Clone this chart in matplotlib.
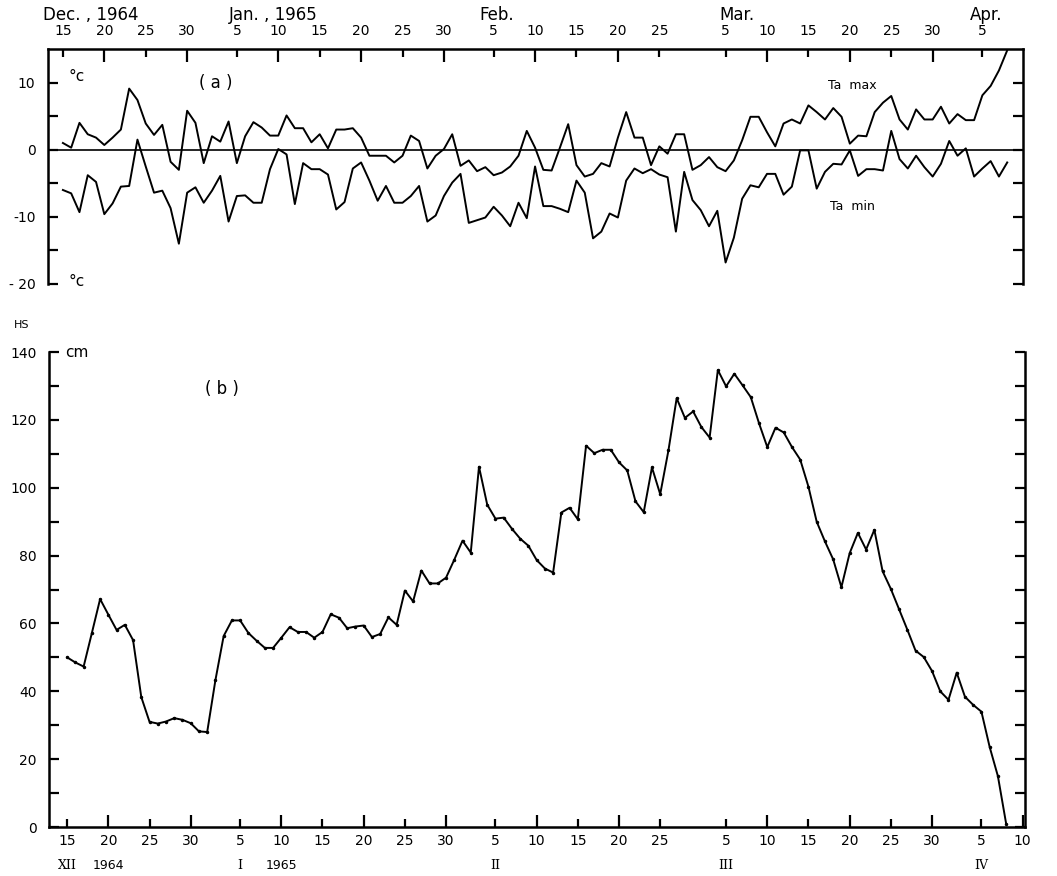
import datetime

import matplotlib
matplotlib.use("Agg")
import matplotlib.ticker
from matplotlib import pyplot

start_date = datetime.date(1964, 12, 15)

# daily air temperature (deg C), 15 Dec 1964 - 8 Apr 1965
ta_max = [1.0, 0.3, 4.0, 2.3, 1.8, 0.7, 1.8, 3.0, 9.1, 7.4,
          3.9, 2.2, 3.7, -1.8, -3.0, 5.8, 4.0, -2.0, 2.0, 1.2,
          4.2, -2.0, 2.0, 4.1, 3.3, 2.1, 2.1, 5.1, 3.2, 3.2,
          1.1, 2.3, 0.2, 3.0, 3.0, 3.2, 1.8, -0.9, -0.9, -0.9,
          -1.9, -0.9, 2.1, 1.3, -2.8, -0.9, 0.1, 2.3, -2.4, -1.6,
          -3.2, -2.6, -3.8, -3.4, -2.5, -0.9, 2.8, 0.3, -3.0, -3.1,
          0.3, 3.8, -2.3, -4.0, -3.6, -2.0, -2.5, 1.8, 5.6, 1.8,
          1.8, -2.3, 0.5, -0.6, 2.3, 2.3, -3.0, -2.3, -1.1, -2.6,
          -3.2, -1.6, 1.4, 4.9, 4.9, 2.6, 0.5, 3.9, 4.5, 3.9,
          6.6, 5.6, 4.5, 6.2, 4.9, 0.9, 2.1, 2.0, 5.6, 7.0,
          8.0, 4.5, 3.0, 6.0, 4.5, 4.5, 6.4, 3.9, 5.3, 4.4,
          4.4, 8.1, 9.5, 11.8, 14.8]
ta_min = [-6.0, -6.5, -9.3, -3.8, -4.8, -9.6, -8.0, -5.5, -5.4, 1.5,
          -2.5, -6.4, -6.1, -8.7, -14.0, -6.4, -5.6, -7.9, -6.1, -3.9,
          -10.7, -6.9, -6.8, -7.9, -7.9, -2.9, 0.1, -0.7, -8.1, -2.0,
          -2.9, -2.9, -3.7, -8.9, -7.8, -2.8, -1.9, -4.6, -7.6, -5.4,
          -7.9, -7.9, -6.9, -5.4, -10.7, -9.8, -6.9, -4.9, -3.6, -10.9,
          -10.5, -10.1, -8.5, -9.8, -11.4, -7.9, -10.2, -2.5, -8.4, -8.4,
          -8.8, -9.3, -4.6, -6.4, -13.2, -12.2, -9.5, -10.1, -4.6, -2.8,
          -3.5, -2.9, -3.7, -4.1, -12.2, -3.3, -7.5, -9.0, -11.4, -9.1,
          -16.8, -13.1, -7.3, -5.3, -5.6, -3.6, -3.6, -6.7, -5.5, -0.1,
          -0.1, -5.8, -3.3, -2.1, -2.2, -0.1, -3.9, -2.9, -2.9, -3.1,
          2.8, -1.4, -2.8, -0.9, -2.6, -4.0, -2.1, 1.3, -0.9, 0.2,
          -4.0, -2.8, -1.7, -4.0, -1.9]
# daily snow depth (cm)
hs = [50.0, 48.5, 47.3, 57.2, 67.2, 62.6, 58.1, 59.6, 55.1, 38.3,
      31.0, 30.5, 31.1, 32.1, 31.6, 30.6, 28.2, 28.0, 43.3, 56.3,
      60.9, 60.9, 57.2, 54.9, 52.8, 52.8, 55.8, 58.9, 57.5, 57.5,
      55.8, 57.5, 62.7, 61.7, 58.6, 59.1, 59.4, 56.0, 56.9, 61.8,
      59.6, 69.7, 66.5, 75.6, 71.8, 71.8, 73.5, 78.8, 84.4, 80.9,
      106.2, 95.0, 90.9, 91.2, 87.9, 85.0, 82.9, 78.7, 76.2, 75.0,
      92.7, 94.1, 90.7, 112.4, 110.2, 111.2, 111.2, 107.5, 105.1, 96.0,
      92.8, 106.0, 98.1, 111.0, 126.4, 120.6, 122.5, 117.9, 114.8, 134.7,
      129.9, 133.6, 130.2, 126.7, 119.0, 112.0, 117.7, 116.3, 112.0, 108.3,
      100.3, 90.0, 84.2, 78.9, 70.7, 80.7, 86.7, 81.8, 87.6, 75.4,
      70.2, 64.2, 58.2, 52.0, 50.1, 46.0, 40.0, 37.5, 45.5, 38.4,
      36.0, 34.0, 23.6, 15.0, 1.0]

top_tick_dates = ["1964-12-15", "1964-12-20", "1964-12-25", "1964-12-30",
                  "1965-01-05", "1965-01-10", "1965-01-15", "1965-01-20", "1965-01-25", "1965-01-30",
                  "1965-02-05", "1965-02-10", "1965-02-15", "1965-02-20", "1965-02-25",
                  "1965-03-05", "1965-03-10", "1965-03-15", "1965-03-20", "1965-03-25", "1965-03-30",
                  "1965-04-05"]
bottom_tick_dates = top_tick_dates + ["1965-04-10"]

temp_ticks = [-20, -10, 0, 10]
temp_minor_ticks = [-15, -5, 5]
temp_tick_labels = ["- 20", "-10", "0", "10"]
hs_ticks = [0, 20, 40, 60, 80, 100, 120, 140]


def day_of(s):
    return (datetime.date.fromisoformat(s) - start_date).days


def set_day_ticks(axis, dates):
    # 10, 20, 30 get the long tick, 5, 15, 25 the short one
    major = [d for d in dates if int(d[-2:]) % 10 == 0]
    minor = [d for d in dates if int(d[-2:]) % 10 != 0]
    axis.set_major_locator(matplotlib.ticker.FixedLocator([day_of(d) for d in major]))
    axis.set_major_formatter(matplotlib.ticker.FixedFormatter([str(int(d[-2:])) for d in major]))
    axis.set_minor_locator(matplotlib.ticker.FixedLocator([day_of(d) for d in minor]))
    axis.set_minor_formatter(matplotlib.ticker.FixedFormatter([str(int(d[-2:])) for d in minor]))


days = [i for i in range(len(hs))]

fig = pyplot.figure(figsize=(10.57, 8.76), dpi=100, facecolor="w")
ax1 = fig.add_axes([0.0454, 0.6758, 0.9224, 0.2683])
ax2 = fig.add_axes([0.0464, 0.0559, 0.9234, 0.5422])

# (a) air temperature
ax1.plot(days, ta_max, color="black", linewidth=1.4)
ax1.plot(days, ta_min, color="black", linewidth=1.4)
ax1.axhline(0, color="black", linewidth=1.2)
ax1.set_xlim(-1.8, 115.9)
ax1.set_ylim(-20, 15)
ax1.spines["bottom"].set_visible(False)
for s in ["top", "left", "right"]:
    ax1.spines[s].set_linewidth(1.8)
ax1.xaxis.tick_top()
set_day_ticks(ax1.xaxis, top_tick_dates)
ax1.tick_params(axis="x", which="both", direction="in", top=True, bottom=False,
                labeltop=True, labelbottom=False, labelsize=10, pad=8, width=1.6)
ax1.tick_params(axis="x", which="major", length=9)
ax1.tick_params(axis="x", which="minor", length=6)
ax1.set_yticks(temp_ticks)
ax1.set_yticklabels(temp_tick_labels)
ax1.yaxis.set_minor_locator(matplotlib.ticker.FixedLocator(temp_minor_ticks))
ax1.tick_params(axis="y", which="both", direction="in", left=True, right=True,
                length=7, width=1.6, labelsize=10, pad=9)

month_labels = [("Dec. , 1964", "1964-12-18"), ("Jan. , 1965", "1965-01-09"),
                ("Feb.", "1965-02-05"), ("Mar.", "1965-03-06"), ("Apr.", "1965-04-05")]
for text, date in month_labels:
    ax1.text(day_of(date) + 0.4, 1.145, text, transform=ax1.get_xaxis_transform(),
             ha="center", va="center", fontsize=12)

ax1.text(1.6, 10.9, "°c", ha="center", va="center", fontsize=11)
ax1.text(1.6, -19.6, "°c", ha="center", va="center", fontsize=11)
ax1.text(18.5, 10, "( a )", ha="center", va="center", fontsize=12)
ax1.text(95.3, 9.6, "Ta  max", ha="center", va="center", fontsize=9)
ax1.text(95.3, -8.4, "Ta  min", ha="center", va="center", fontsize=9)

# (b) snow depth
ax2.plot(days, hs, color="black", linewidth=1.4, marker=".", markersize=3)
ax2.set_xlim(-2.2, 116.3)
ax2.set_ylim(0, 140)
ax2.spines["top"].set_visible(False)
for s in ["bottom", "left", "right"]:
    ax2.spines[s].set_linewidth(1.8)
set_day_ticks(ax2.xaxis, bottom_tick_dates)
ax2.tick_params(axis="x", which="both", direction="in", labelsize=10, pad=5, width=1.6)
ax2.tick_params(axis="x", which="major", length=9)
ax2.tick_params(axis="x", which="minor", length=6)
ax2.set_yticks(hs_ticks)
ax2.yaxis.set_minor_locator(matplotlib.ticker.MultipleLocator(10))
ax2.tick_params(axis="y", which="both", direction="in", left=True, right=True,
                length=7, width=1.6, labelsize=10, pad=9)

month_numerals = [("XII", "1964-12-15"), ("1964", "1964-12-20"), ("I", "1965-01-05"),
                  ("1965", "1965-01-10"), ("II", "1965-02-05"), ("III", "1965-03-05"),
                  ("IV", "1965-04-05")]
for text, date in month_numerals:
    family = "DejaVu Serif" if text[0] in "XIV" else "DejaVu Sans"
    ax2.text(day_of(date), -0.08, text, transform=ax2.get_xaxis_transform(),
             ha="center", va="center", fontsize=9, family=family)

ax2.text(1.2, 140, "cm", ha="center", va="center", fontsize=11)
ax2.text(18.8, 129, "( b )", ha="center", va="center", fontsize=12)
fig.text(22 / 1057, 1 - 325 / 876, "HS", ha="center", va="center", fontsize=8)

pyplot.savefig("out.png", dpi=100)
